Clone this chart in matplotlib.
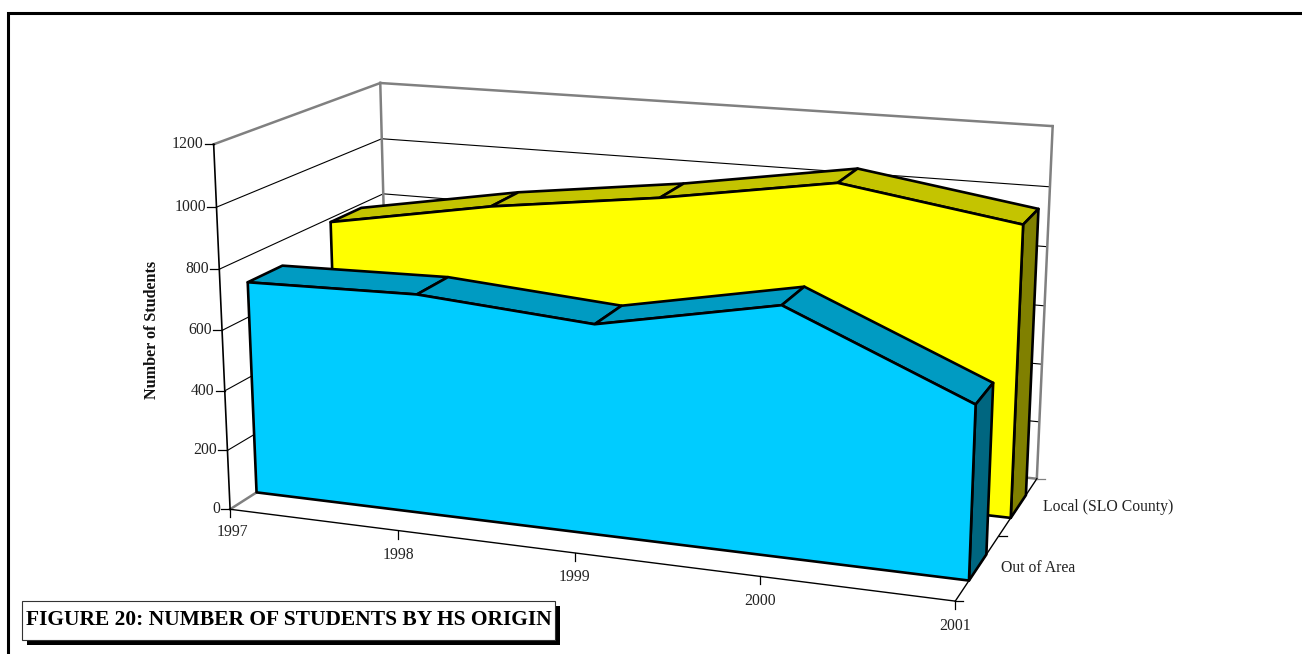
import numpy as np
import matplotlib
matplotlib.use("Agg")
import matplotlib.pyplot as plt
from matplotlib.patches import Polygon, Rectangle

plt.rcParams["font.family"] = ["Liberation Serif", "DejaVu Serif"]

# ── data ──────────────────────────────────────────────────────────────────────

years = [1997, 1998, 1999, 2000, 2001]
out_of_area = [715, 727, 685, 799, 551]
local_slo = [786, 886, 960, 1053, 964]
series_names = ["Out of Area", "Local (SLO County)"]
value_ticks = [0, 200, 400, 600, 800, 1000, 1200]
title = "FIGURE 20: NUMBER OF STUDENTS BY HS ORIGIN"

VMAX = 1200.0

# ── camera: fitted from the box corners (x, value, depth) -> pixel ────────────

ANCHORS = [
    ((0, 0, 0), (230, 509)), ((1, 0, 0), (955, 601)), ((1, 0, 1), (1037, 478)),
    ((1, 1, 1), (1053, 126)), ((0, 1, 1), (380, 83)), ((0, 1, 0), (213, 144)),
    ((0, 5 / 6, 0), (217, 207)), ((0, 4 / 6, 0), (220, 269)),
    ((0, 5 / 6, 1), (382, 139)), ((0, 4 / 6, 1), (383, 194)),
    ((1, 5 / 6, 1), (1049, 187)), ((1, 4 / 6, 1), (1048, 247)),
    ((.25, 0, 0), (398, 531)), ((.5, 0, 0), (575, 553)), ((.75, 0, 0), (760, 577)),
]


def _fit_camera():
    rows = []
    for (x, y, z), (u, v) in ANCHORS:
        rows.append([x, y, z, 1, 0, 0, 0, 0, -u * x, -u * y, -u * z, -u])
        rows.append([0, 0, 0, 0, x, y, z, 1, -v * x, -v * y, -v * z, -v])
    return np.linalg.svd(np.array(rows, dtype=float))[2][-1].reshape(3, 4)


CAM = _fit_camera()


def pt(i, value, depth):
    """i = category position (0..4), value in students, depth 0..1"""
    h = CAM @ np.array([i / (len(years) - 1), value / VMAX, depth, 1.0])
    return h[0] / h[2], h[1] / h[2]


def seg(ax, a, b, color="black", lw=0.8, z=1):
    ax.plot([a[0], b[0]], [a[1], b[1]], color=color, lw=lw, zorder=z,
            solid_capstyle="projecting")


# ── figure ────────────────────────────────────────────────────────────────────

fig = plt.figure(figsize=(13.02, 6.54), dpi=100, facecolor="white")
ax = fig.add_axes([0, 0, 1, 1])
ax.set_xlim(0, 1302)
ax.set_ylim(654, 0)
ax.axis("off")

# page frame, top and left only
ax.plot([8, 8, 1302], [654, 12.5, 12.5], color="black", lw=2.2, zorder=1,
        solid_joinstyle="miter")

last = len(years) - 1
GRAY = "#808080"
LABEL = "#222222"
TICK_FS = 11.3

# walls and gridlines
for v in value_ticks[1:-1]:
    seg(ax, pt(0, v, 0), pt(0, v, 1))
    seg(ax, pt(0, v, 1), pt(last, v, 1))
seg(ax, pt(0, 0, 0), pt(0, 0, 1), GRAY, 1.8)
seg(ax, pt(0, 0, 1), pt(last, 0, 1), GRAY, 1.8)
seg(ax, pt(0, VMAX, 0), pt(0, VMAX, 1), GRAY, 1.8)
seg(ax, pt(0, VMAX, 1), pt(last, VMAX, 1), GRAY, 1.8)
seg(ax, pt(0, 0, 1), pt(0, VMAX, 1), GRAY, 1.8)
seg(ax, pt(last, 0, 1), pt(last, VMAX, 1), GRAY, 1.8)

# axes lines
seg(ax, pt(0, 0, 0), pt(0, VMAX, 0), "black", 1.2, 2)
seg(ax, pt(0, 0, 0), pt(last, 0, 0), "black", 1.0, 2)
seg(ax, pt(last, 0, 0), pt(last, 0, 1), "black", 1.0, 2)

# value ticks
for v in value_ticks:
    x, y = pt(0, v, 0)
    ax.plot([x - 9, x], [y, y], color="black", lw=0.9, zorder=2)
    ax.text(x - 10, y, str(v), ha="right", va="center", fontsize=TICK_FS, color=LABEL)

# year ticks
for i, yr in enumerate(years):
    x, y = pt(i, 0, 0)
    ax.plot([x, x], [y, y + 8], color="black", lw=0.9, zorder=2)
    ax.text(x + (2 if i == 0 else 0), y + (23 if i == 0 else 24.5), str(yr),
            ha="center", va="center", fontsize=TICK_FS, color=LABEL)

# depth ticks
for d, col in zip((0, 0.5, 1), ("black", "black", GRAY)):
    x, y = pt(last, 0, d)
    ax.plot([x, x + 8], [y, y], color=col, lw=0.9, zorder=2)

# depth labels
for d, name in zip((0.25, 0.75), series_names):
    x, y = pt(last, 0, d)
    ax.text(x + (23 if d < 0.5 else 25), y + 1, name, ha="left", va="center",
            fontsize=TICK_FS, color=LABEL)


def draw_area(values, z0, z1, front, top, side, zorder):
    kw = dict(edgecolor="black", lw=1.9, joinstyle="round", zorder=zorder)
    # top strips, one per year interval
    for i in range(last):
        poly = [pt(i, values[i], z0), pt(i + 1, values[i + 1], z0),
                pt(i + 1, values[i + 1], z1), pt(i, values[i], z1)]
        ax.add_patch(Polygon(poly, facecolor=top, **kw))
    # right end
    ax.add_patch(Polygon([pt(last, values[last], z0), pt(last, 0, z0),
                          pt(last, 0, z1), pt(last, values[last], z1)],
                         facecolor=side, **kw))
    # front face
    outline = [pt(i, values[i], z0) for i in range(last + 1)]
    outline += [pt(last, 0, z0), pt(0, 0, z0)]
    ax.add_patch(Polygon(outline, facecolor=front, **kw))


draw_area(local_slo, 0.65, 0.85, "#FFFF00", "#C4C400", "#808000", 3)
draw_area(out_of_area, 0.15, 0.35, "#00CCFF", "#009BC2", "#006680", 4)

ax.text(152, 329.5, "Number of Students", rotation=90, ha="center", va="center",
        fontsize=11.6, fontweight="bold", color="#111111")

# title box with drop shadow
ax.add_patch(Rectangle((27, 606), 533, 39, facecolor="black", edgecolor="none", zorder=5))
ax.add_patch(Rectangle((22, 601), 533, 39, facecolor="white", edgecolor="#333333",
                       lw=0.8, zorder=6))
ax.text(26, 620, title, ha="left", va="center", fontsize=15.5, fontweight="bold",
        color="black", zorder=7)

fig.savefig("out.png", dpi=100)
